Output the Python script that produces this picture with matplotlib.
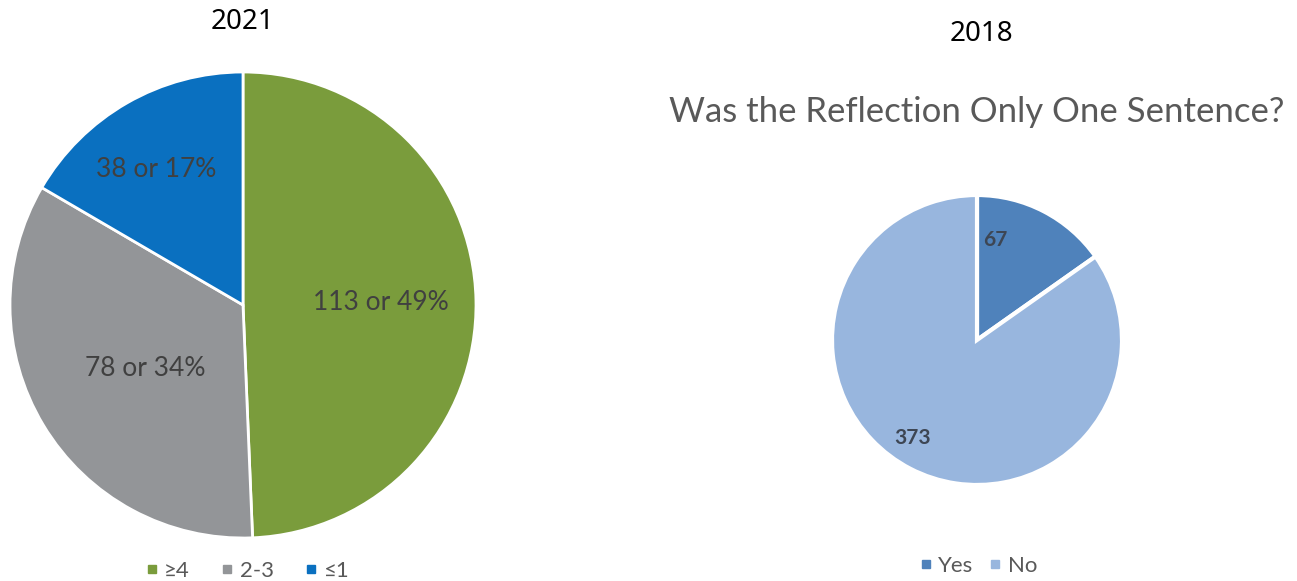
import matplotlib.pyplot as plt
from matplotlib.lines import Line2D
import numpy as np

# 2021 survey: number of sentences in the reflection
cats_2021 = ["≥4", "2-3", "≤1"]
counts_2021 = [113, 78, 38]
pcts_2021 = [49, 34, 17]
colors_2021 = ["#7a9c3c", "#939598", "#0a70c0"]

# 2018 survey: was the reflection only one sentence?
cats_2018 = ["Yes", "No"]
counts_2018 = [67, 373]
colors_2018 = ["#4f82bb", "#98b6de"]

FONTS = ["Lato", "DejaVu Sans"]
W, H = 1297, 581

fig = plt.figure(figsize=(W / 100, H / 100), dpi=100)


def pie_axes(cx, cy, r):
    # axes sized so that a unit-radius pie sits at pixel centre (cx, cy)
    return fig.add_axes([(cx - r) / W, (H - cy - r) / H, 2 * r / W, 2 * r / H])


def place_labels(ax, wedges, texts, radii, nudges, **kw):
    for w, t, r, dn in zip(wedges, texts, radii, nudges):
        ang = np.deg2rad((w.theta1 + w.theta2) / 2 + dn)
        ax.text(r * np.cos(ang), r * np.sin(ang), t, ha="center", va="center",
                family=FONTS, **kw)


# left pie
ax1 = pie_axes(243, 305, 233)
w1, _ = ax1.pie(counts_2021, colors=colors_2021, startangle=90, counterclock=False,
                wedgeprops=dict(edgecolor="white", linewidth=2))
ax1.set_xlim(-1, 1)
ax1.set_ylim(-1, 1)
labels_2021 = [f"{c} or {p}%" for c, p in zip(counts_2021, pcts_2021)]
place_labels(ax1, w1, labels_2021, [0.59, 0.5, 0.69], [0, 2, 3],
             fontsize=19, color="#404040")

# right pie
ax2 = pie_axes(977, 340, 145)
w2, _ = ax2.pie(counts_2018, colors=colors_2018, startangle=90, counterclock=False,
                wedgeprops=dict(edgecolor="white", linewidth=3))
ax2.set_xlim(-1, 1)
ax2.set_ylim(-1, 1)
place_labels(ax2, w2, [str(c) for c in counts_2018], [0.7, 0.81], [17, -6],
             fontsize=15, color="#3d4654", fontweight="bold")

# titles
fig.text(243 / W, 1 - 22 / H, "2021", ha="center", va="center",
         family="Noto Sans", fontsize=20, color="black")
fig.text(981 / W, 1 - 34 / H, "2018", ha="center", va="center",
         family="Noto Sans", fontsize=20, color="black")
fig.text(977 / W, 1 - 112 / H, "Was the Reflection Only One Sentence?",
         ha="center", va="center", family=FONTS, fontsize=25, color="#595959")


def legend(cats, colors, x, y, spacing):
    handles = [Line2D([], [], marker="s", linestyle="", markersize=6,
                      markerfacecolor=c, markeredgecolor=c) for c in colors]
    fig.legend(handles, cats, loc="center", bbox_to_anchor=(x / W, 1 - y / H),
               ncol=len(cats), frameon=False, handletextpad=0.15,
               columnspacing=spacing, handlelength=0.8,
               prop=dict(family=FONTS, size=16), labelcolor="#595959")


legend(cats_2021, colors_2021, 246, 571, 1.3)
legend(cats_2018, colors_2018, 977, 566, 0.6)

fig.savefig("out.png", dpi=100, facecolor="white")
